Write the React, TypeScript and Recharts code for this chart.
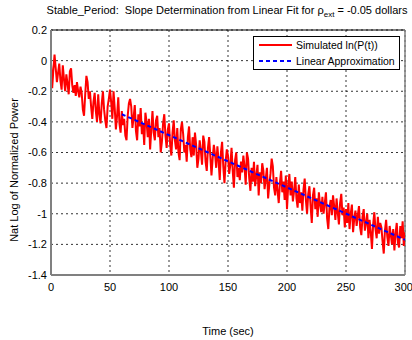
import { LineChart, Line, XAxis, YAxis, CartesianGrid, Legend, ReferenceLine } from 'recharts';

const FONT = '"Liberation Sans", Arial, Helvetica, sans-serif';

// simulated ln(P(t)), one sample per second from t = 0 to 300
const SAMPLE_STEP_SEC = 1;
const SIM_LOG_POWER = [
    -0.02, -0.18, -0.06, 0.04, -0.05, -0.14, -0.08, -0.02, -0.13, -0.19,
    -0.03, -0.12, -0.2, -0.09, -0.15, -0.22, -0.07, -0.05, -0.16, -0.21,
    -0.16, -0.23, -0.14, -0.2, -0.24, -0.17, -0.21, -0.32, -0.36, -0.22,
    -0.1, -0.14, -0.25, -0.2, -0.3, -0.38, -0.27, -0.21, -0.33, -0.4,
    -0.22, -0.35, -0.41, -0.28, -0.2, -0.32, -0.39, -0.44, -0.3, -0.25,
    -0.19, -0.27, -0.38, -0.2, -0.31, -0.45, -0.36, -0.24, -0.41, -0.47,
    -0.33, -0.42, -0.38, -0.49, -0.52, -0.36, -0.28, -0.25, -0.3, -0.44,
    -0.37, -0.29, -0.46, -0.52, -0.35, -0.43, -0.31, -0.48, -0.41, -0.55,
    -0.34, -0.4, -0.5, -0.38, -0.58, -0.45, -0.33, -0.47, -0.52, -0.39,
    -0.36, -0.5, -0.44, -0.6, -0.53, -0.41, -0.35, -0.49, -0.57, -0.45,
    -0.41, -0.55, -0.62, -0.47, -0.39, -0.52, -0.58, -0.44, -0.6, -0.65,
    -0.45, -0.4, -0.48, -0.6, -0.55, -0.66, -0.5, -0.43, -0.58, -0.63,
    -0.5, -0.62, -0.47, -0.55, -0.7, -0.64, -0.52, -0.59, -0.68, -0.49,
    -0.53, -0.66, -0.72, -0.57, -0.5, -0.62, -0.75, -0.64, -0.55, -0.61,
    -0.7, -0.56, -0.65, -0.78, -0.6, -0.53, -0.69, -0.8, -0.66, -0.58,
    -0.62, -0.74, -0.68, -0.57, -0.72, -0.83, -0.65, -0.6, -0.76, -0.7,
    -0.78, -0.66, -0.73, -0.62, -0.69, -0.81, -0.6, -0.64, -0.77, -0.85,
    -0.7, -0.79, -0.66, -0.82, -0.75, -0.68, -0.88, -0.73, -0.8, -0.67,
    -0.72, -0.84, -0.77, -0.7, -0.9, -0.81, -0.74, -0.64, -0.69, -0.83,
    -0.88, -0.76, -0.85, -0.93, -0.8, -0.72, -0.86, -0.79, -0.91, -0.75,
    -0.97, -0.82, -0.74, -0.88, -0.79, -0.92, -0.85, -0.76, -0.9, -0.96,
    -0.81, -0.93, -0.86, -0.98, -0.84, -0.77, -0.91, -1.0, -0.87, -0.82,
    -0.95, -1.06, -0.88, -0.83, -0.97, -0.9, -1.02, -0.86, -0.94, -0.99,
    -0.89, -1.0, -0.93, -0.86, -1.03, -1.1, -0.96, -0.91, -1.01, -0.88,
    -0.95, -1.04, -0.9, -0.99, -1.07, -0.93, -0.87, -1.01, -0.96, -1.09,
    -0.97, -1.06, -0.93, -1.1, -1.0, -0.94, -1.12, -1.03, -0.98, -1.08,
    -1.01, -0.95, -1.09, -1.14, -1.02, -0.97, -1.11, -1.06, -1.0, -1.16,
    -1.04, -1.12, -1.23, -1.07, -0.99, -1.1, -1.16, -1.02, -1.13, -1.06,
    -1.09, -1.18, -1.26, -1.11, -1.04, -1.15, -1.21, -1.08, -1.14, -1.2,
    -1.1, -1.24, -1.13, -1.06, -1.19, -1.22, -1.08, -1.16, -1.05, -1.21,
    -1.12
];

// linear fit endpoints
const FIT_TIME = [60, 300];
const FIT_LOG_POWER = [-0.35, -1.17];

const X_TICKS = [0, 50, 100, 150, 200, 250, 300];
const Y_TICKS = [0.2, 0, -0.2, -0.4, -0.6, -0.8, -1, -1.2, -1.4];

const simData = SIM_LOG_POWER.map((v, i) => ({ t: i * SAMPLE_STEP_SEC, v }));
const fitData = FIT_TIME.map((t, i) => ({ t, v: FIT_LOG_POWER[i] }));

const tickStyle = { fill: '#000', fontSize: 11, fontFamily: FONT };

function LegendBox() {
    const row = { display: 'flex', alignItems: 'center', height: 16, whiteSpace: 'nowrap' as const };
    return (
        <div style={{
            width: 147, height: 34, border: '1px solid #000', background: '#fff',
            font: `10.5px ${FONT}`, color: '#000', boxSizing: 'border-box'
        }}>
            <div style={row}>
                <svg width={37} height={4} style={{ marginLeft: 5 }}>
                    <line x1={0} y1={2} x2={33} y2={2} stroke="#ff0000" strokeWidth={2} />
                </svg>
                <span>Simulated ln(P(t))</span>
            </div>
            <div style={row}>
                <svg width={37} height={4} style={{ marginLeft: 5 }}>
                    <line x1={0} y1={2} x2={33} y2={2} stroke="#0000ff" strokeWidth={2} strokeDasharray="4 3" />
                </svg>
                <span>Linear Approximation</span>
            </div>
        </div>
    );
}

export default function App() {
    return (
        <div style={{ position: 'fixed', top: 0, left: 0, width: 412, height: 340, background: '#fff' }}>
            <div style={{
                position: 'absolute', top: 4, left: 227, transform: 'translateX(-50%)', whiteSpace: 'nowrap',
                font: `11px ${FONT}`, color: '#000'
            }}>
                Stable_Period:&nbsp; Slope Determination from Linear Fit for ρ<sub style={{ fontSize: 8 }}>ext</sub> = -0.05 dollars
            </div>
            <div style={{
                position: 'absolute', top: 170, left: 14, transform: 'translate(-50%, -50%) rotate(-90deg)',
                whiteSpace: 'nowrap', font: `11px ${FONT}`, color: '#000'
            }}>
                Nat Log of Normalized Power
            </div>
            <div style={{
                position: 'absolute', top: 325, left: 228, transform: 'translateX(-50%)', whiteSpace: 'nowrap',
                font: `11px ${FONT}`, color: '#000'
            }}>
                Time (sec)
            </div>
            <LineChart width={412} height={340} margin={{ top: 30, right: 7, left: 21, bottom: 11 }}>
                <CartesianGrid stroke="#000" strokeDasharray="2 3" strokeWidth={0.8} />
                <XAxis
                    dataKey="t"
                    type="number"
                    domain={[0, 300]}
                    ticks={X_TICKS}
                    height={20}
                    tickSize={3}
                    tickMargin={5}
                    tickLine={false}
                    axisLine={{ stroke: '#808080', strokeWidth: 2 }}
                    tick={tickStyle}
                    allowDataOverflow
                />
                <YAxis
                    type="number"
                    domain={[-1.4, 0.2]}
                    ticks={Y_TICKS}
                    width={30}
                    tickSize={2}
                    tickMargin={2}
                    tickLine={false}
                    axisLine={{ stroke: '#808080', strokeWidth: 2 }}
                    tick={tickStyle}
                    tickFormatter={(v: number) => String(Number(v.toFixed(1)))}
                    allowDataOverflow
                />
                <ReferenceLine y={0.2} stroke="#000" strokeWidth={1} />
                <ReferenceLine x={300} stroke="#808080" strokeWidth={1.5} />
                <Line
                    data={simData}
                    dataKey="v"
                    type="linear"
                    stroke="#ff0000"
                    strokeWidth={2}
                    dot={false}
                    isAnimationActive={false}
                />
                <Line
                    data={fitData}
                    dataKey="v"
                    type="linear"
                    stroke="#0000ff"
                    strokeWidth={2}
                    strokeDasharray="4 3"
                    dot={false}
                    isAnimationActive={false}
                />
                <Legend
                    content={<LegendBox />}
                    wrapperStyle={{ position: 'absolute', top: 36, left: 253, width: 147 }}
                />
            </LineChart>
        </div>
    );
}
